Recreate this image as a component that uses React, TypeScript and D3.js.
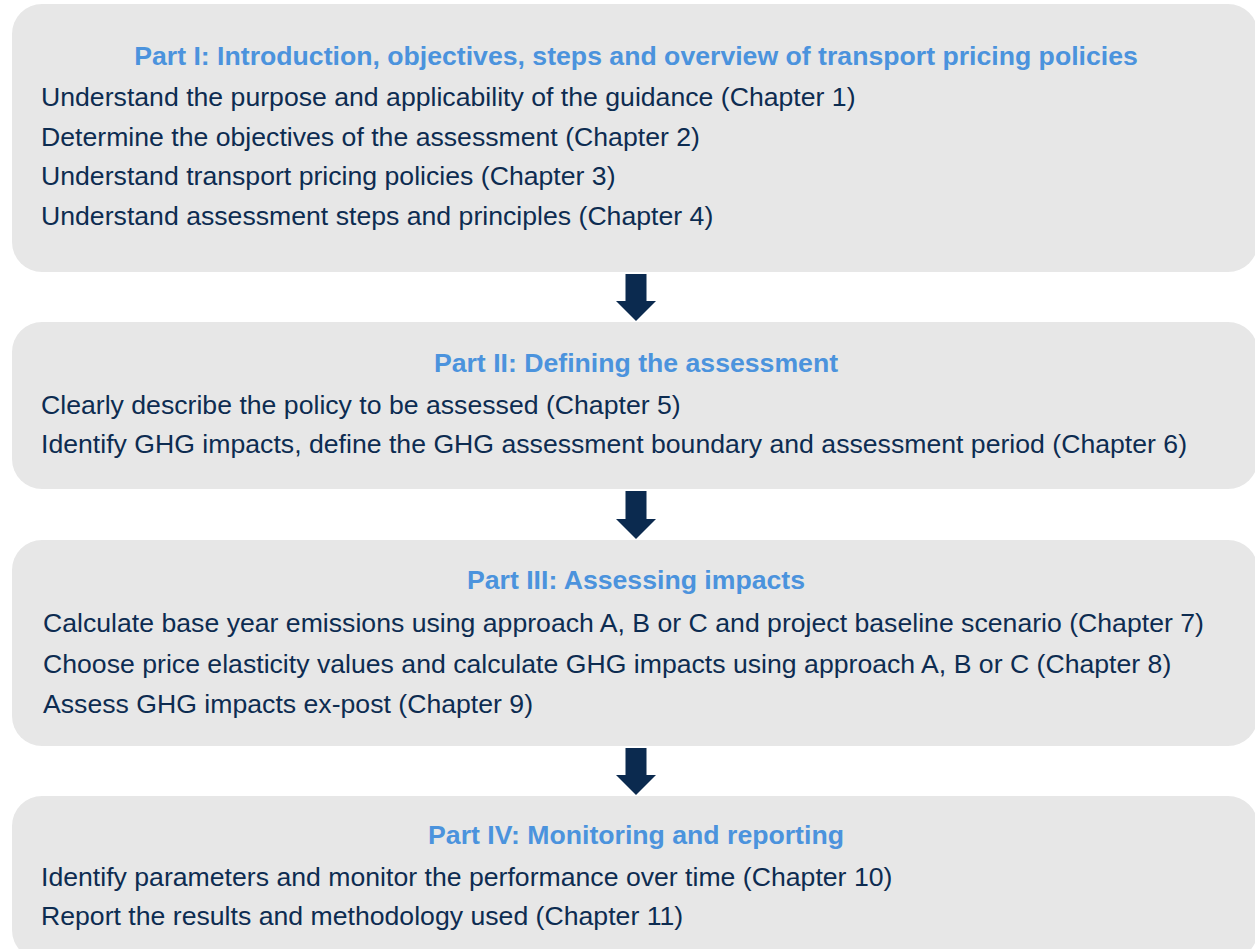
import React from "react";
import * as d3 from "d3";

const partTitles = [
  "Part I: Introduction, objectives, steps and overview of transport pricing policies",
  "Part II: Defining the assessment",
  "Part III: Assessing impacts",
  "Part IV: Monitoring and reporting",
];

const part1Items = [
  "Understand the purpose and applicability of the guidance (Chapter 1)",
  "Determine the objectives of the assessment (Chapter 2)",
  "Understand transport pricing policies (Chapter 3)",
  "Understand assessment steps and principles (Chapter 4)",
];
const part2Items = [
  "Clearly describe the policy to be assessed (Chapter 5)",
  "Identify GHG impacts, define the GHG assessment boundary and assessment period (Chapter 6)",
];
const part3Items = [
  "Calculate base year emissions using approach A, B or C and project baseline scenario (Chapter 7)",
  "Choose price elasticity values and calculate GHG impacts using approach A, B or C (Chapter 8)",
  "Assess GHG impacts ex-post (Chapter 9)",
];
const part4Items = [
  "Identify parameters and monitor the performance over time (Chapter 10)",
  "Report the results and methodology used (Chapter 11)",
];

const partItems = [part1Items, part2Items, part3Items, part4Items];

// layout
const W = 1255;
const H = 949;
const boxes = [
  { top: 4, bottom: 272, titleY: 65, firstY: 106, textX: 41 },
  { top: 322, bottom: 489, titleY: 372, firstY: 414, textX: 41 },
  { top: 540, bottom: 746, titleY: 589, firstY: 632, textX: 43 },
  { top: 796, bottom: 960, titleY: 844, firstY: 886, textX: 41 },
];
const lineGaps = [39.5, 39, 40.5, 39];

const FILL = "#e7e7e7";
const TITLE = "#4b93dd";
const TEXT = "#0d2c51";
const ARROW = "#0b2a4f";
const FS = 25;
const SX = 1.066;

function arrowPath(cx: number, y0: number, y1: number) {
  const p = d3.path();
  const sw = 10.5;
  const hw = 20;
  const headH = 20;
  const hy = y1 - headH;
  p.moveTo(cx - sw, y0);
  p.lineTo(cx + sw, y0);
  p.lineTo(cx + sw, hy);
  p.lineTo(cx + hw, hy);
  p.lineTo(cx, y1);
  p.lineTo(cx - hw, hy);
  p.lineTo(cx - sw, hy);
  p.closePath();
  return p.toString();
}

export default function App() {
  const boxX = 12;
  const boxR = 1258;
  const cx = 636;
  return (
    <svg
      width={W}
      height={H}
      style={{ position: "absolute", left: 0, top: 0, background: "#fff" }}
      fontFamily="'Liberation Sans', Arial, sans-serif"
    >
      <rect x={0} y={0} width={W} height={H} fill="#fff" />
      {boxes.map((b, i) => (
        <g key={i}>
          <rect
            x={boxX}
            y={b.top}
            width={boxR - boxX}
            height={b.bottom - b.top}
            rx={30}
            ry={30}
            fill={FILL}
          />
          <text
            transform={`translate(${cx},${b.titleY}) scale(${SX},1)`}
            textAnchor="middle"
            fontSize={FS}
            fontWeight="bold"
            fill={TITLE}
          >
            {partTitles[i]}
          </text>
          {partItems[i].map((t, j) => (
            <text
              key={j}
              transform={`translate(${b.textX},${b.firstY + j * lineGaps[i]}) scale(${SX},1)`}
              fontSize={FS}
              fill={TEXT}
            >
              {t}
            </text>
          ))}
        </g>
      ))}
      {boxes.slice(0, 3).map((b, i) => (
        <path key={i} d={arrowPath(cx, b.bottom + 2, boxes[i + 1].top - 1)} fill={ARROW} />
      ))}
    </svg>
  );
}
